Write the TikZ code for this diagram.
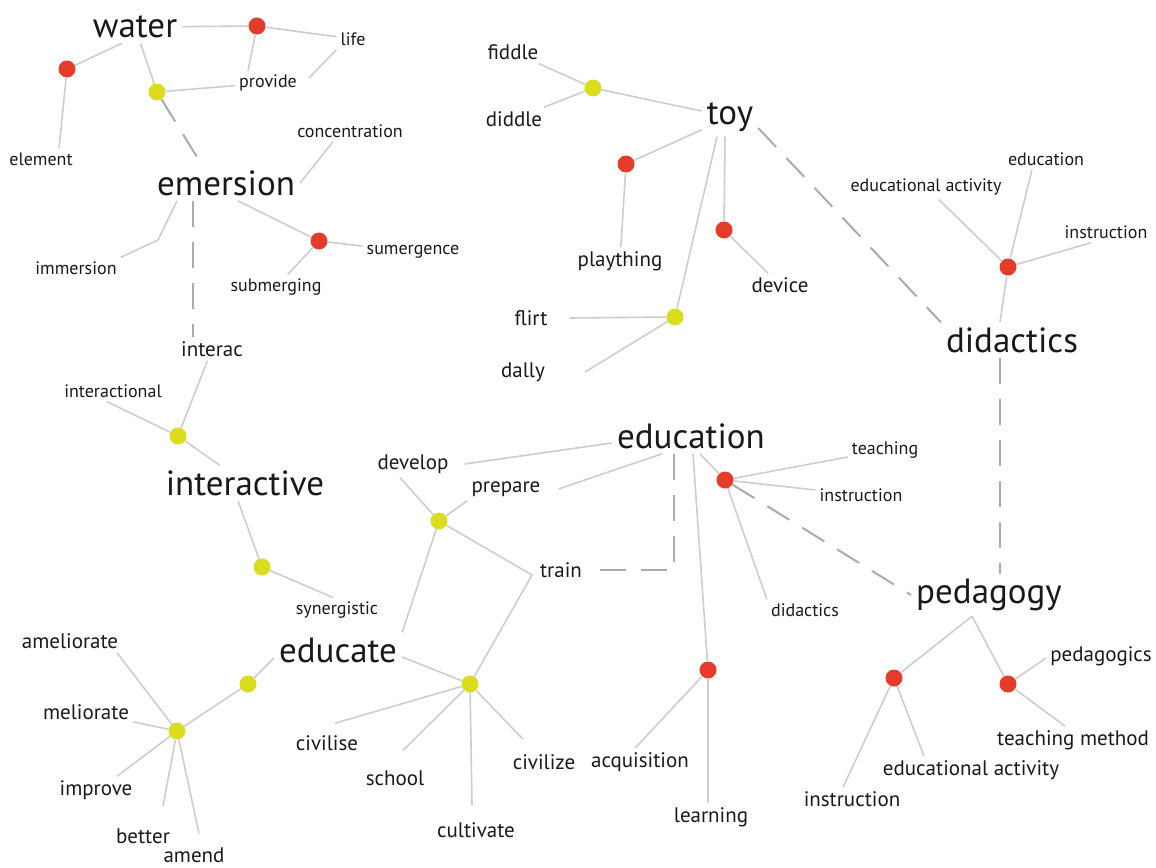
\documentclass[tikz,border=0pt]{standalone}
\usepackage{fontspec}
\setmainfont{PT Sans}
\definecolor{dotred}{HTML}{E53B2B}
\definecolor{dotyel}{HTML}{DCDC1F}
\definecolor{lgray}{HTML}{CDCDCD}
\definecolor{dgray}{HTML}{ABABAB}
\tikzset{
  big/.style={font=\fontsize{35}{35}\selectfont, inner sep=5pt, text=black!90},
  med/.style={font=\fontsize{21}{21}\selectfont, inner sep=4pt, text=black!90},
  sml/.style={font=\fontsize{18}{18}\selectfont, inner sep=4pt, text=black!90},
  rdot/.style={circle, fill=dotred, minimum size=17pt, inner sep=0pt},
  ydot/.style={circle, fill=dotyel, minimum size=17pt, inner sep=0pt},
  ln/.style={draw=lgray, line width=1.6pt},
  dsh/.style={draw=dgray, line width=2pt, dash pattern=on 26pt off 15pt}
}
\begin{document}
\begin{tikzpicture}[x=1pt,y=-1pt]
\useasboundingbox (0,0) rectangle (1156,867);
% big words
\node[big] (water) at (135,27) {water};
\node[big] (emersion) at (226,183) {emersion};
\node[big] (toy) at (730,117) {toy};
\node[big] (didactics) at (1012,340) {didactics};
\node[big] (interactive) at (245,483) {interactive};
\node[big] (education) at (691,436) {education};
\node[big] (pedagogy) at (989,595) {pedagogy};
\node[big] (educate) at (338,650) {educate};
% medium words
\node[med] (plaything) at (620,261) {plaything};
\node[med] (device) at (780,285) {device};
\node[med] (flirt) at (531,318) {flirt};
\node[med] (dally) at (523,372) {dally};
\node[med] (fiddle) at (513,52) {fiddle};
\node[med] (diddle) at (514,119) {diddle};
\node[med] (interac) at (212,349) {interac};
\node[med] (develop) at (413,464) {develop};
\node[med] (prepare) at (506,489) {prepare};
\node[med] (train) at (561,570) {train};
\node[med] (ameliorate) at (70,641) {ameliorate};
\node[med] (meliorate) at (86,712) {meliorate};
\node[med] (improve) at (96,790) {improve};
\node[med] (better) at (143,836) {better};
\node[med] (amend) at (194,855) {amend};
\node[med] (civilise) at (327,743) {civilise};
\node[med] (school) at (395,778) {school};
\node[med] (cultivate) at (476,830) {cultivate};
\node[med] (civilize) at (544,762) {civilize};
\node[med] (acquisition) at (640,762) {acquisition};
\node[med] (learning) at (711,817) {learning};
\node[med] (pedagogics) at (1101,656) {pedagogics};
\node[med] (teachmethod) at (1073,740) {teaching method};
\node[med] (edact2) at (971,770) {educational activity};
\node[med] (instr3) at (852,799) {instruction};
% small words
\node[sml] (life) at (353,39) {life};
\node[sml] (provide) at (268,83) {provide};
\node[sml] (element) at (41,159) {element};
\node[sml] (concentration) at (350,131) {concentration};
\node[sml] (sumergence) at (413,252) {sumergence};
\node[sml] (submerging) at (276,287) {submerging};
\node[sml] (immersion) at (76,268) {immersion};
\node[sml] (interactional) at (113,391) {interactional};
\node[sml] (synergistic) at (337,610) {synergistic};
\node[sml] (edu2) at (1046,159) {education};
\node[sml] (edact1) at (926,187) {educational activity};
\node[sml] (instr1) at (1106,232) {instruction};
\node[sml] (teaching) at (885,450) {teaching};
\node[sml] (instr2) at (861,495) {instruction};
\node[sml] (didact2) at (805,610) {didactics};
% dots
\node[rdot] (R1) at (257,26) {};
\node[rdot] (R2) at (67,69) {};
\node[ydot] (Y1) at (157,92) {};
\node[rdot] (R3) at (319,241) {};
\node[ydot] (Y2) at (593,88) {};
\node[rdot] (R4) at (626,164) {};
\node[rdot] (R5) at (724,230) {};
\node[ydot] (Y3) at (675,317) {};
\node[rdot] (R6) at (1008,267) {};
\node[ydot] (Y4) at (178,436) {};
\node[ydot] (Y5) at (262,567) {};
\node[ydot] (Y6) at (439,521) {};
\node[rdot] (R7) at (725,480) {};
\node[ydot] (Y7) at (248,684) {};
\node[ydot] (Y8) at (177,731) {};
\node[ydot] (Y9) at (470,684) {};
\node[rdot] (R8) at (708,670) {};
\node[rdot] (R9) at (894,678) {};
\node[rdot] (R10) at (1008,684) {};
% bend points
\coordinate (b1) at (158,240);
\coordinate (tc) at (532,575);
\coordinate (ec) at (674,570);
% water cluster
\draw[ln] (water) -- (R1);
\draw[ln] (R1) -- (life);
\draw[ln] (R1) -- ([xshift=-20pt]provide.north);
\draw[ln] ([shift={(8pt,5pt)}]provide.east) -- (life.south west);
\draw[ln] (Y1) -- (provide);
\draw[ln] (water) -- (Y1);
\draw[ln] ([xshift=-13pt]water.south) -- (R2);
\draw[ln] (R2) -- ([xshift=18pt]element.north);
\draw[dsh] (Y1) -- ([xshift=-24pt]emersion.north);
% emersion cluster
\draw[ln] (emersion.east) -- ([xshift=-17pt]concentration.south);
\draw[ln] ([xshift=-49pt]emersion.south) -- (b1) -- (immersion.north east);
\draw[ln] ([xshift=12pt]emersion.south) -- (R3);
\draw[ln] (R3) -- (sumergence);
\draw[ln] (R3) -- (submerging);
\draw[dsh] ([xshift=-33pt]emersion.south) -- ([xshift=-33pt]emersion.south |- interac.north);
% interactive
\draw[ln] (interac) -- (Y4);
\draw[ln] (Y4) -- ([xshift=-6pt]interactional.south);
\draw[ln] (Y4) -- (interactive);
\draw[ln] ([xshift=-7pt]interactive.south) -- (Y5);
\draw[ln] (Y5) -- ([xshift=-4pt]synergistic.north);
% toy
\draw[ln] (fiddle) -- (Y2);
\draw[ln] (diddle) -- (Y2);
\draw[ln] (Y2) -- (toy);
\draw[ln] (toy) -- (R4);
\draw[ln] ([xshift=-5pt]toy.south) -- (R5);
\draw[ln] ([xshift=-13pt]toy.south) -- (Y3);
\draw[ln] (R4) -- (plaything);
\draw[ln] (R5) -- (device);
\draw[ln] (Y3) -- ([xshift=18pt]flirt.east);
\draw[ln] (Y3) -- ([xshift=36pt]dally.east);
\draw[dsh] ([yshift=-11pt]toy.east) -- (didactics.north west);
% didactics
\draw[ln] (R6) -- (edact1);
\draw[ln] (R6) -- ([xshift=-14pt]edu2.south);
\draw[ln] (R6) -- ([xshift=-15pt]instr1.south);
\draw[ln] (R6) -- ([xshift=-12pt]didactics.north);
\draw[dsh] ([xshift=-12pt]didactics.south) -- ([xshift=-12pt]didactics.south |- pedagogy.north);
% education
\draw[ln] ([yshift=-7pt]education.west) -- ([xshift=12pt]develop.east);
\draw[ln] ([xshift=-29pt]education.south) -- ([xshift=14pt]prepare.east);
\draw[dsh] ([xshift=-17pt]education.south) -- (ec) -- ([xshift=14pt]train.east);
\draw[ln] ([xshift=9pt]education.south) -- (R7);
\draw[ln] ([xshift=2pt]education.south) -- (R8);
\draw[ln] (R7) -- (teaching);
\draw[ln] (R7) -- (instr2);
\draw[ln] (R7) -- (didact2.north west);
\draw[dsh] (R7) -- (pedagogy.west);
\draw[ln] (R8) -- ([xshift=-5pt]acquisition.north);
\draw[ln] (R8) -- ([xshift=-3pt]learning.north);
% develop / educate
\draw[ln] ([xshift=-13pt]develop.south) -- (Y6);
\draw[ln] (Y6) -- (prepare.south west);
\draw[ln] (Y6) -- (tc) -- (Y9);
\draw[ln] (Y6) -- (educate.north east);
\draw[ln] ([yshift=-8pt]educate.west) -- (Y7);
\draw[ln] (Y7) -- (Y8);
\draw[ln] (Y8) -- ([xshift=47pt]ameliorate.south);
\draw[ln] (Y8) -- (meliorate);
\draw[ln] (Y8) -- ([xshift=21pt]improve.north);
\draw[ln] (Y8) -- ([shift={(20pt,18pt)}]better.north);
\draw[ln] (Y8) -- ([shift={(5pt,10pt)}]amend.north);
\draw[ln] ([yshift=-7pt]educate.east) -- (Y9);
\draw[ln] (Y9) -- ([shift={(8pt,8pt)}]civilise.north);
\draw[ln] (Y9) -- ([shift={(8pt,16pt)}]school.north);
\draw[ln] (Y9) -- ([shift={(-4pt,13pt)}]cultivate.north);
\draw[ln] (Y9) -- ([shift={(-21pt,11pt)}]civilize.north);
% pedagogy
\draw[ln] ([xshift=-17pt]pedagogy.south) -- (R9);
\draw[ln] ([xshift=-17pt]pedagogy.south) -- (R10);
\draw[ln] (R10) -- ([yshift=-2pt]pedagogics.west);
\draw[ln] (R10) -- ([xshift=-8pt]teachmethod.north);
\draw[ln] (R9) -- ([xshift=-47pt]edact2.north);
\draw[ln] (R9) -- ([xshift=-9pt]instr3.north);
\end{tikzpicture}
\end{document}
